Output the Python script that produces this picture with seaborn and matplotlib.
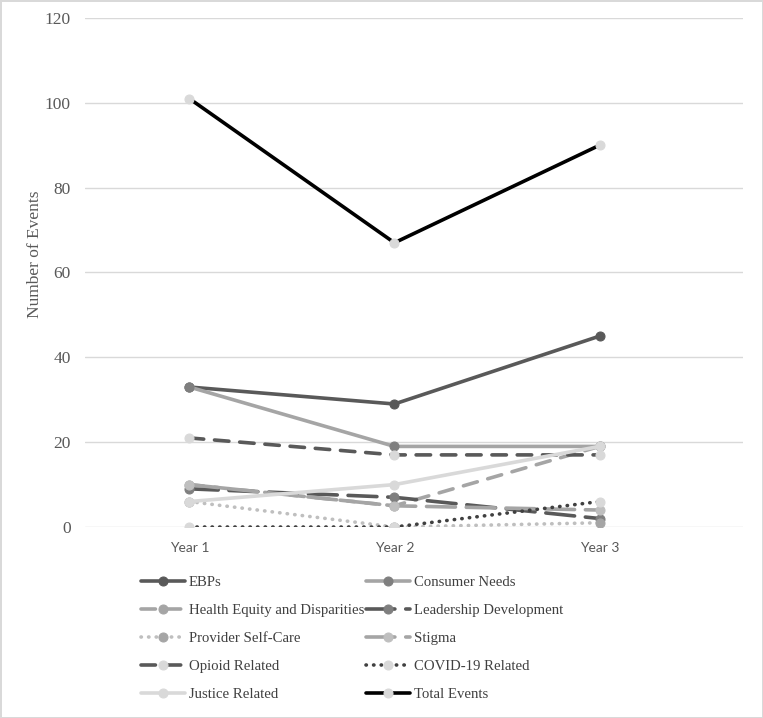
"""
Events per year by topic, grayscale line chart (Excel style).
"""
import pandas as pd
import matplotlib.pyplot as plt
import seaborn as sns

# Data
years = ["Year 1", "Year 2", "Year 3"]
series_names = [
    "EBPs", "Consumer Needs", "Health Equity and Disparities",
    "Leadership Development", "Provider Self-Care", "Stigma",
    "Opioid Related", "COVID-19 Related", "Justice Related", "Total Events",
]
ebps = [33, 29, 45]
consumer_needs = [33, 19, 19]
health_equity = [10, 5, 19]
leadership = [9, 7, 2]
provider_self_care = [6, 0, 1]
stigma = [10, 5, 4]
opioid = [21, 17, 17]
covid = [0, 0, 6]
justice = [6, 10, 19]
total_events = [101, 67, 90]
values = [ebps, consumer_needs, health_equity, leadership, provider_self_care,
          stigma, opioid, covid, justice, total_events]

# Styles: line colour, marker colour, dash pattern
line_colors = ["#595959", "#A5A5A5", "#A5A5A5", "#595959", "#BFBFBF",
               "#A5A5A5", "#595959", "#404040", "#D9D9D9", "#000000"]
marker_colors = ["#595959", "#7F7F7F", "#A5A5A5", "#7F7F7F", "#A5A5A5",
                 "#BFBFBF", "#D9D9D9", "#D9D9D9", "#D9D9D9", "#D9D9D9"]
dashes = ["-", "-", (0, (4, 3)), (0, (8, 3)), (0, (0.1, 2)),
          (0, (8, 3)), (0, (4, 3)), (0, (0.1, 2)), "-", "-"]

rows = []
for name, vals in zip(series_names, values):
    for yr, v in zip(years, vals):
        rows.append({"series": name, "year": yr, "events": v})
df = pd.DataFrame(rows)

sns.set_theme(style="white")
serif = ["Liberation Serif", "DejaVu Serif"]

fig = plt.figure(figsize=(7.63, 7.18), dpi=100, edgecolor="#D9D9D9", linewidth=2)
ax = fig.add_axes([0.111, 0.266, 0.863, 0.709])

for i, name in enumerate(series_names):
    sub = df[df["series"] == name]
    sns.lineplot(data=sub, x="year", y="events", ax=ax, label=name,
                 color=line_colors[i], linewidth=2.6, linestyle=dashes[i],
                 dash_capstyle="round", marker="o", markersize=6.5,
                 markerfacecolor=marker_colors[i], markeredgecolor=marker_colors[i],
                 zorder=3 + i)

ax.set_ylim(0, 120)
ax.set_yticks(range(0, 121, 20))
ax.set_xlim(-0.51, 2.70)
ax.grid(axis="y", color="#D9D9D9", linewidth=1)
ax.set_axisbelow(True)
for s in ax.spines.values():
    s.set_visible(False)
ax.tick_params(axis="y", length=0, pad=10, labelsize=12.5, labelcolor="#595959")
ax.tick_params(axis="x", length=0, pad=11, labelsize=10, labelcolor="#595959")
for t in ax.get_yticklabels():
    t.set_fontfamily(serif)
for t in ax.get_xticklabels():
    t.set_fontfamily(["Lato", "DejaVu Sans"])

ax.set_xlabel("")
ax.set_ylabel("Number of Events", fontsize=12.5, color="#595959", family=serif)
ax.yaxis.set_label_coords(-0.063, 0.536)

# Legend in row-major order like the reference (two columns)
handles, labels = ax.get_legend_handles_labels()
order = [0, 2, 4, 6, 8, 1, 3, 5, 7, 9]
leg = ax.legend([handles[k] for k in order], [labels[k] for k in order],
                ncol=2, loc="upper left", bbox_to_anchor=(0.065, -0.07),
                frameon=False, handlelength=3.0, handletextpad=0.25,
                columnspacing=0.15, labelspacing=1.0,
                prop={"family": serif, "size": 10.6})
for txt in leg.get_texts():
    txt.set_color("#404040")

fig.savefig("out.png", dpi=100)
